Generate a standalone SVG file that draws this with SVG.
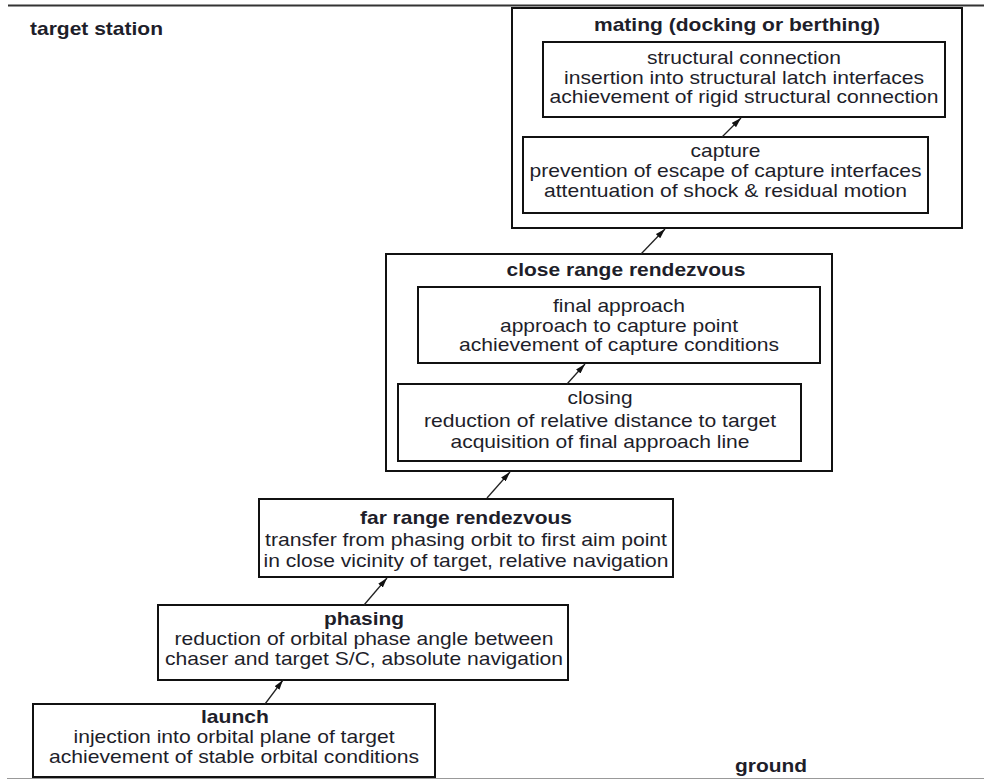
<svg xmlns="http://www.w3.org/2000/svg" width="984" height="780" viewBox="0 0 984 780">
<defs>
<marker id="ah" viewBox="0 0 10 6" refX="10" refY="3" markerWidth="10" markerHeight="6" markerUnits="userSpaceOnUse" orient="auto">
<path d="M0,0 L10,3 L0,6 Z" fill="#111"/>
</marker>
<style>
.box{fill:#fff;stroke:#111;stroke-width:2}
.t{font-family:"Liberation Sans",Arial,sans-serif;font-size:18.5px;fill:#1e1e2a;text-anchor:middle}
.b{font-weight:bold}
.lbl{font-family:"Liberation Sans",Arial,sans-serif;font-size:18.5px;font-weight:bold;fill:#1e1e2a}
.c{stroke:#222;stroke-width:1.3;fill:none;marker-end:url(#ah)}
</style>
</defs>
<rect width="984" height="780" fill="#fff"/>
<line x1="8" y1="5.5" x2="984" y2="5.5" stroke="#333" stroke-width="2"/>
<line x1="7" y1="778.5" x2="984" y2="778.5" stroke="#999" stroke-width="1"/>
<text class="lbl" x="30" y="35" textLength="133" lengthAdjust="spacingAndGlyphs">target station</text>
<text class="lbl" x="735" y="772" textLength="72" lengthAdjust="spacingAndGlyphs">ground</text>

<g id="mating">
<rect class="box" x="512" y="8" width="450" height="220"/>
<text class="t b" x="737" y="31" textLength="286" lengthAdjust="spacingAndGlyphs">mating (docking or berthing)</text>
</g>
<g id="structural">
<rect class="box" x="543" y="42" width="402" height="75"/>
<text class="t" x="744" y="64" textLength="194" lengthAdjust="spacingAndGlyphs">structural connection</text>
<text class="t" x="744" y="84" textLength="360" lengthAdjust="spacingAndGlyphs">insertion into structural latch interfaces</text>
<text class="t" x="744" y="103" textLength="389" lengthAdjust="spacingAndGlyphs">achievement of rigid structural connection</text>
</g>
<g id="capture">
<rect class="box" x="523" y="137" width="405" height="76"/>
<text class="t" x="725.5" y="157" textLength="70" lengthAdjust="spacingAndGlyphs">capture</text>
<text class="t" x="725.5" y="177" textLength="392" lengthAdjust="spacingAndGlyphs">prevention of escape of capture interfaces</text>
<text class="t" x="725.5" y="197" textLength="363" lengthAdjust="spacingAndGlyphs">attentuation of shock &amp; residual motion</text>
</g>
<g id="close-range">
<rect class="box" x="386" y="254" width="446" height="217"/>
<text class="t b" x="626" y="276" textLength="239" lengthAdjust="spacingAndGlyphs">close range rendezvous</text>
</g>
<g id="final-approach">
<rect class="box" x="418" y="287" width="402" height="76"/>
<text class="t" x="619" y="312" textLength="132" lengthAdjust="spacingAndGlyphs">final approach</text>
<text class="t" x="619" y="332" textLength="238" lengthAdjust="spacingAndGlyphs">approach to capture point</text>
<text class="t" x="619" y="351" textLength="320" lengthAdjust="spacingAndGlyphs">achievement of capture conditions</text>
</g>
<g id="closing">
<rect class="box" x="398" y="384" width="403" height="77"/>
<text class="t" x="600" y="404" textLength="65" lengthAdjust="spacingAndGlyphs">closing</text>
<text class="t" x="600" y="427" textLength="352" lengthAdjust="spacingAndGlyphs">reduction of relative distance to target</text>
<text class="t" x="600" y="448" textLength="299" lengthAdjust="spacingAndGlyphs">acquisition of final approach line</text>
</g>
<g id="far-range">
<rect class="box" x="259" y="499" width="414" height="78"/>
<text class="t b" x="466" y="524" textLength="212" lengthAdjust="spacingAndGlyphs">far range rendezvous</text>
<text class="t" x="466" y="546" textLength="402" lengthAdjust="spacingAndGlyphs">transfer from phasing orbit to first aim point</text>
<text class="t" x="466" y="567" textLength="405" lengthAdjust="spacingAndGlyphs">in close vicinity of target, relative navigation</text>
</g>
<g id="phasing">
<rect class="box" x="158" y="605" width="410" height="75"/>
<text class="t b" x="364" y="625" textLength="80" lengthAdjust="spacingAndGlyphs">phasing</text>
<text class="t" x="364" y="645" textLength="379" lengthAdjust="spacingAndGlyphs">reduction of orbital phase angle between</text>
<text class="t" x="364" y="665" textLength="398" lengthAdjust="spacingAndGlyphs">chaser and target S/C, absolute navigation</text>
</g>
<g id="launch">
<rect class="box" x="33" y="704" width="402" height="73"/>
<text class="t b" x="235" y="723" textLength="68" lengthAdjust="spacingAndGlyphs">launch</text>
<text class="t" x="234" y="743" textLength="321" lengthAdjust="spacingAndGlyphs">injection into orbital plane of target</text>
<text class="t" x="234" y="763" textLength="370" lengthAdjust="spacingAndGlyphs">achievement of stable orbital conditions</text>
</g>

<g id="connectors">
<line class="c" x1="265" y1="704" x2="283" y2="680"/>
<line class="c" x1="364" y1="605" x2="387" y2="578"/>
<line class="c" x1="487" y1="498" x2="510" y2="472"/>
<line class="c" x1="567" y1="384" x2="585" y2="364"/>
<line class="c" x1="641" y1="254" x2="665" y2="229"/>
<line class="c" x1="722" y1="137" x2="741" y2="118"/>
</g>
</svg>
